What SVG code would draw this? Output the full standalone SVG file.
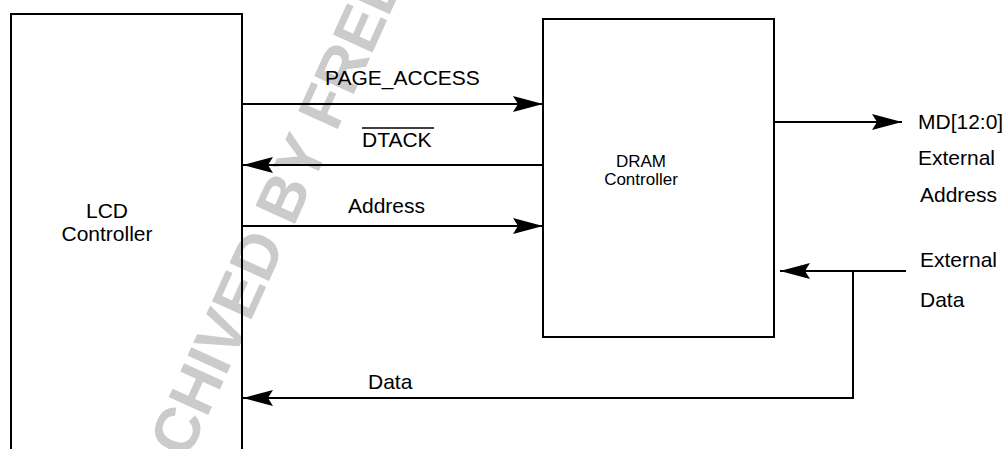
<svg xmlns="http://www.w3.org/2000/svg" width="1007" height="449" viewBox="0 0 1007 449">
<style>
.box{fill:none;stroke:#000;stroke-width:2}
.ln{fill:none;stroke:#000;stroke-width:2}
.t{font-family:"Liberation Sans",Arial,sans-serif;font-size:21px;fill:#000}
.s{font-family:"Liberation Sans",Arial,sans-serif;font-size:17px;fill:#000}
.wm{font-family:"Liberation Sans",Arial,sans-serif;font-weight:bold;font-size:63px;fill:#cbcbcb}
</style>
<defs>
<marker id="ah" markerUnits="userSpaceOnUse" markerWidth="32" markerHeight="20" refX="30" refY="8" orient="auto" viewBox="0 0 32 20">
<path d="M30,8 L0,0 L5,8 L0,16 Z" fill="#000"/>
</marker>
</defs>
<rect width="1007" height="449" fill="#fff"/>
<text class="wm" transform="translate(150,543) rotate(-65.6)">ARCHIVED BY FREESCALE</text>
<g id="lcd">
<rect class="box" x="11" y="14" width="231" height="460"/>
<text class="t" x="107" y="218" text-anchor="middle">LCD</text>
<text class="t" x="107" y="241" text-anchor="middle">Controller</text>
</g>
<g id="dram">
<rect class="box" x="543" y="19" width="231" height="318"/>
<text class="s" x="641" y="167" text-anchor="middle">DRAM</text>
<text class="s" x="641" y="185" text-anchor="middle">Controller</text>
</g>
<g id="connectors">
<line class="ln" x1="242" y1="104" x2="543" y2="104" marker-end="url(#ah)"/>
<line class="ln" x1="543" y1="165" x2="243" y2="165" marker-end="url(#ah)"/>
<line class="ln" x1="242" y1="226" x2="543" y2="226" marker-end="url(#ah)"/>
<line class="ln" x1="775" y1="122" x2="902" y2="122" marker-end="url(#ah)"/>
<line class="ln" x1="906" y1="271" x2="780" y2="271" marker-end="url(#ah)"/>
<polyline class="ln" points="853,271 853,398 243,398" marker-end="url(#ah)"/>
</g>
<g id="labels">
<text class="t" x="325" y="85">PAGE_ACCESS</text>
<text class="t" x="362" y="147">DTACK</text>
<line x1="362" y1="128" x2="434" y2="128" stroke="#000" stroke-width="1.5"/>
<text class="t" x="348" y="213">Address</text>
<text class="t" x="368" y="389">Data</text>
<text class="t" x="918" y="129">MD[12:0]</text>
<text class="t" x="918" y="165">External</text>
<text class="t" x="920" y="202">Address</text>
<text class="t" x="920" y="267">External</text>
<text class="t" x="920" y="307">Data</text>
</g>
</svg>
